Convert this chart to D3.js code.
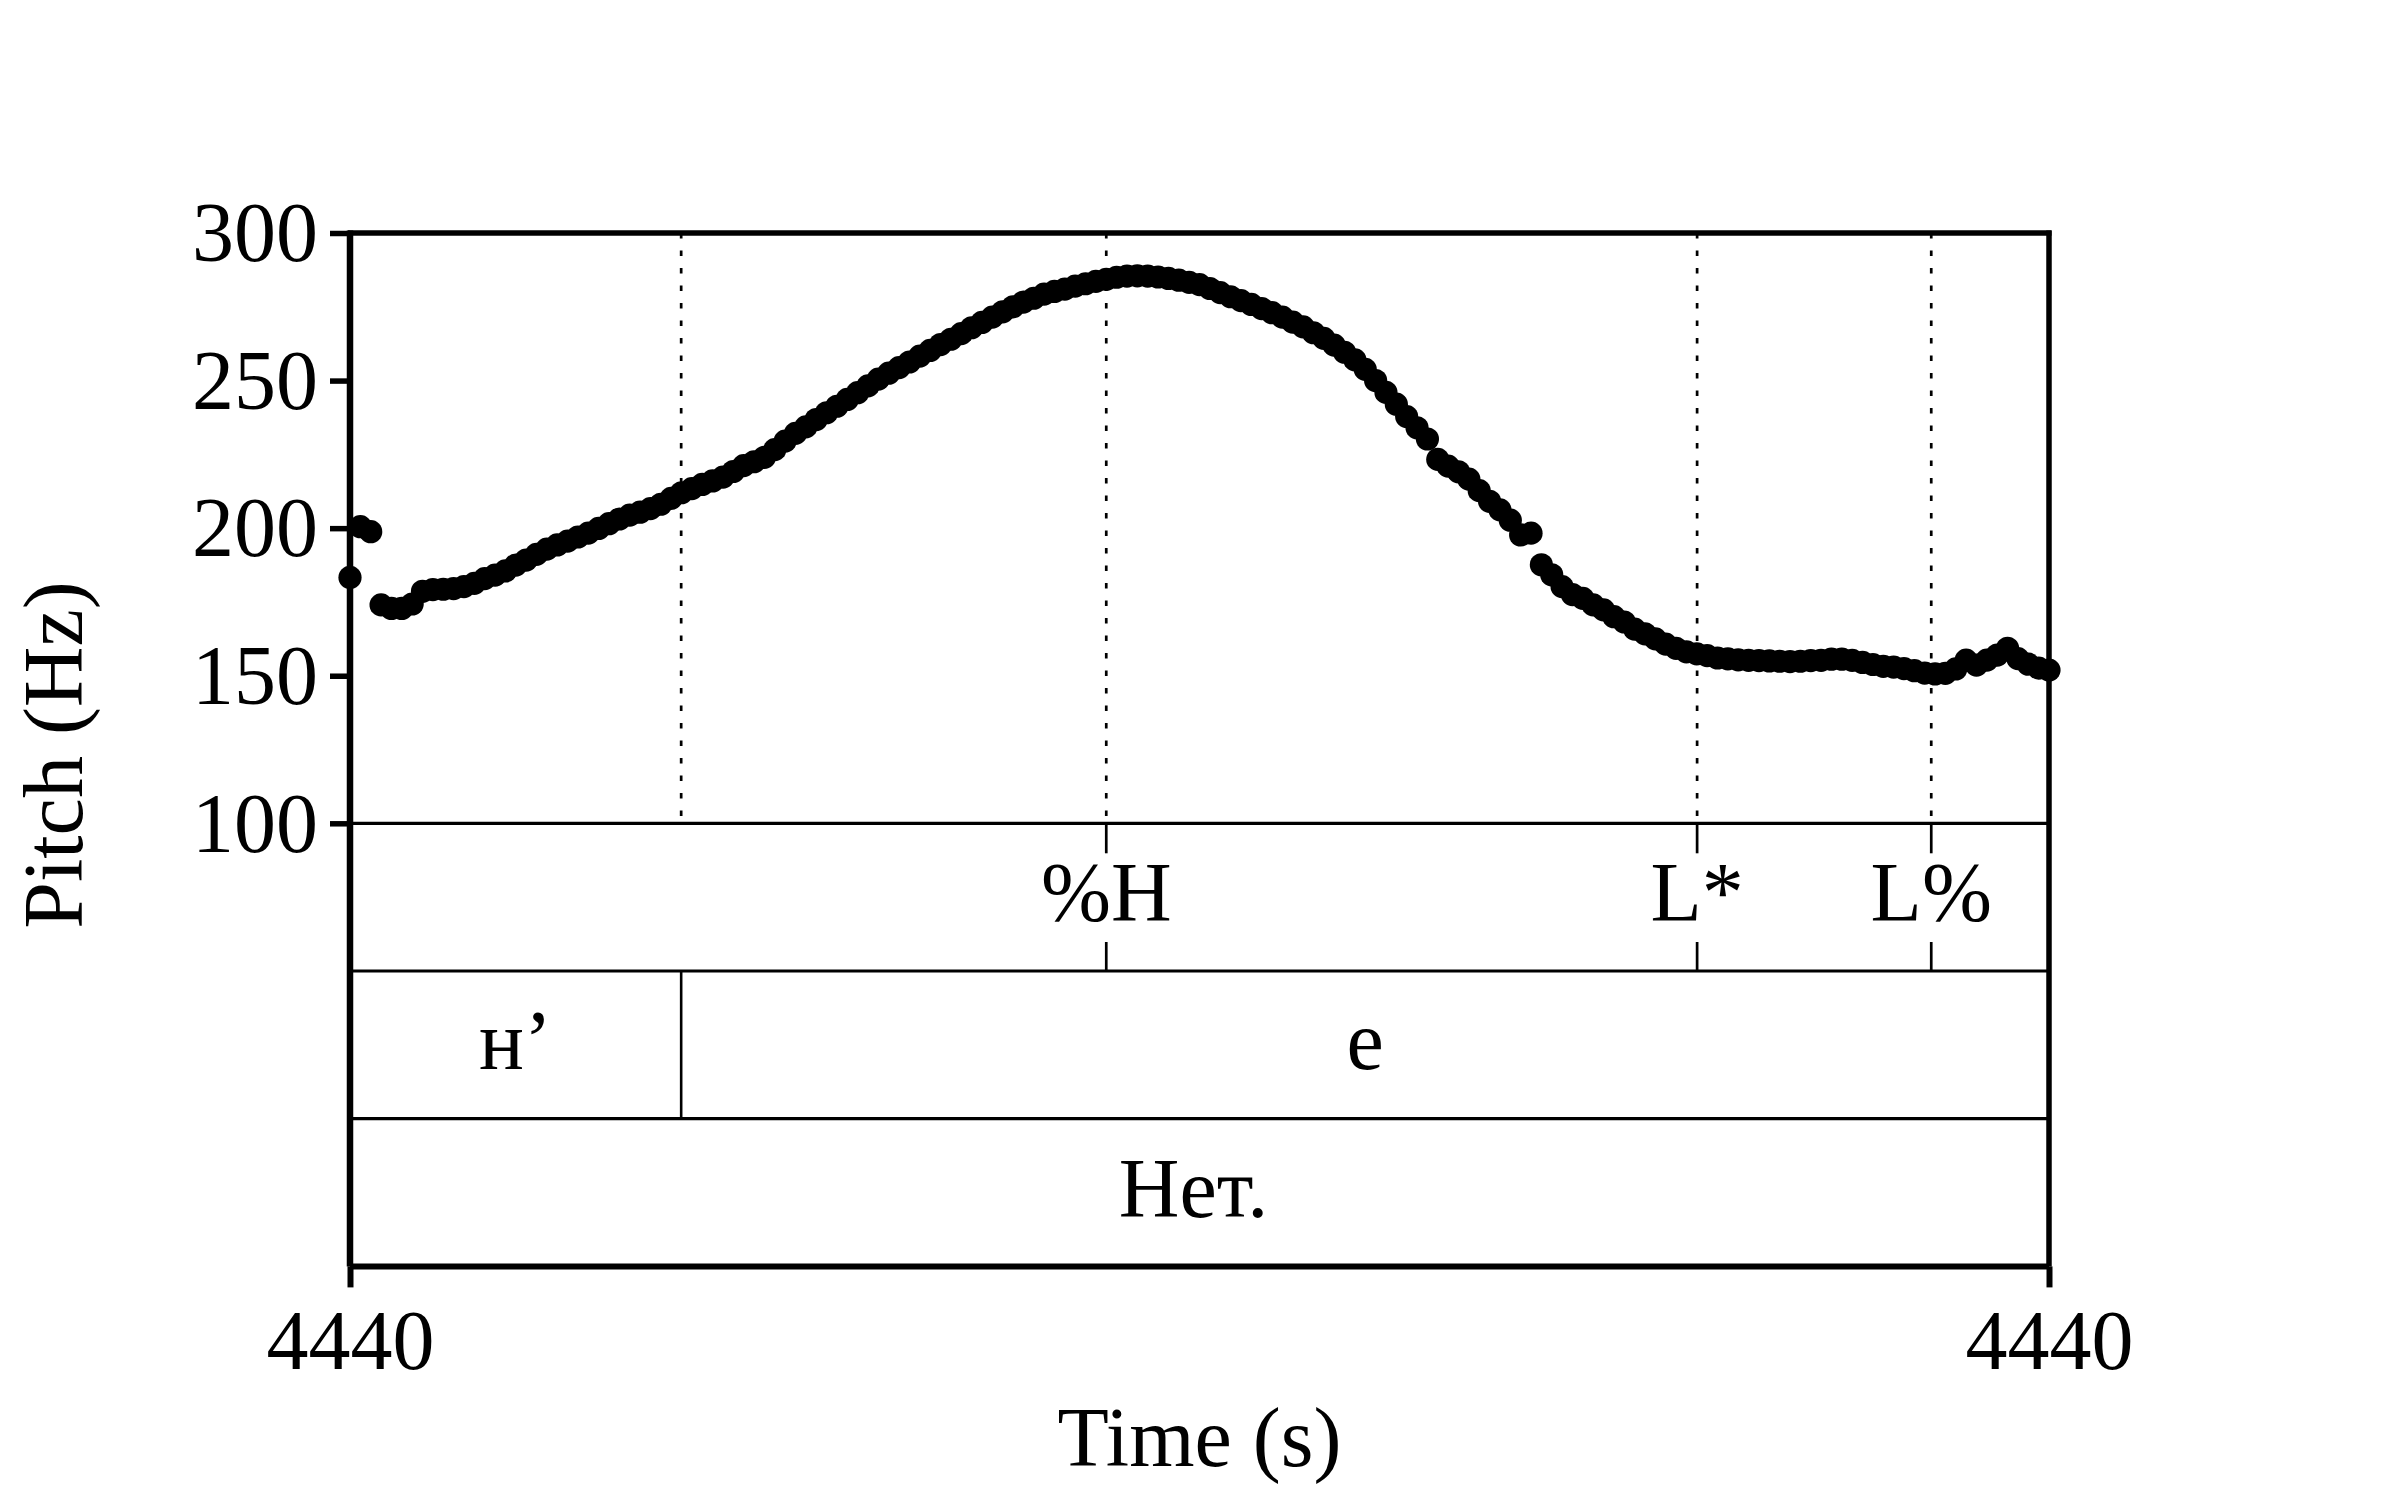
<!DOCTYPE html>
<html><head><meta charset="utf-8">
<script src="https://cdn.jsdelivr.net/npm/d3@7"></script>
<style>
body{margin:0;background:#fff;}
svg{display:block;}
text{font-family:"Liberation Serif","Times New Roman",serif;}
</style>
</head><body>
<svg id="chart" width="2400" height="1500"></svg>
<script>
// ---- data ----
const frameStart = 4440.005;   // time of first pitch frame (s)
const frameStep = 0.003;       // pitch frame step (s)
const pitchHz = [
183.3,200.5,198.8,174.0,172.8,172.8,174.3,178.6,179.2,179.3,
179.5,180.2,181.3,182.9,184.1,185.5,187.5,189.2,191.1,192.9,
194.3,195.6,197.0,198.3,199.9,201.5,203.1,204.4,205.4,206.6,
208.1,210.1,212.0,213.4,214.8,216.0,217.3,219.2,221.2,222.5,
224.0,226.6,229.5,232.1,234.3,236.8,239.1,241.3,243.6,245.9,
248.2,250.5,252.5,254.4,256.3,258.3,260.2,262.2,264.0,265.9,
267.9,269.7,271.5,273.3,275.0,276.6,277.9,279.3,280.2,281.0,
282.0,282.8,283.6,284.3,285.0,285.4,285.5,285.4,285.1,284.6,
284.0,283.3,282.5,281.2,279.8,278.4,277.1,275.8,274.4,273.0,
271.5,269.8,268.2,266.2,264.3,262.0,259.6,257.0,253.8,250.0,
246.0,242.0,237.8,234.0,230.2,223.3,221.0,219.1,216.6,212.7,
209.1,206.2,202.7,197.7,198.3,187.6,184.2,180.2,177.5,176.2,
174.0,172.3,170.0,168.2,165.8,164.2,162.5,160.7,159.3,158.1,
157.4,156.8,156.0,155.7,155.4,155.2,155.1,155.0,154.9,154.8,
154.9,155.1,155.2,155.6,155.6,155.2,154.5,153.8,153.2,152.9,
152.4,151.7,150.9,150.6,150.8,152.3,155.3,153.6,155.3,157.0,
159.3,155.8,153.9,152.6,151.9
];
const timeDomain = [4440.005, 4440.497];
const pitchDomain = [100, 300];
const pitchTicks = [100, 150, 200, 250, 300];
const timeTicks = [4440.005, 4440.497];

const toneLabels = ["%H", "L*", "L%"];
const toneTimes = [4440.2240, 4440.3951, 4440.4629];

const phoneLabels = ["н’", "е"];
const phoneBounds = [4440.005, 4440.1009, 4440.497];

const wordLabels = ["Нет."];
const wordBounds = [4440.005, 4440.497];

const xTitle = "Time (s)";
const yTitle = "Pitch (Hz)";

// ---- layout ----
const L = 350, R = 2049, T = 233, PB = 823.3;
const tierH = 147.7;
const FS = 84;

const svg = d3.select("#chart");
const x = d3.scaleLinear().domain(timeDomain).range([L, R]);
const y = d3.scaleLinear().domain(pitchDomain).range([PB, T]);
const tierTop = i => PB + i * tierH;
const B = tierTop(3);

// dotted guide lines (segment boundaries and tone points) in pitch area
const guideTimes = [phoneBounds[1]].concat(toneTimes);
svg.append("g").selectAll("line").data(guideTimes).join("line")
  .attr("x1", d => x(d)).attr("x2", d => x(d))
  .attr("y1", T).attr("y2", PB)
  .attr("stroke", "#000").attr("stroke-width", 2.7)
  .attr("stroke-dasharray", "5.5 12");

// pitch dots
const pts = pitchHz.map((v, i) => ({t: frameStart + i * frameStep, v}));
svg.append("g").selectAll("circle").data(pts).join("circle")
  .attr("cx", d => x(d.t)).attr("cy", d => y(d.v)).attr("r", 11.6)
  .attr("fill", "#000");

// tier inner horizontal lines
svg.append("g").selectAll("line").data([0, 1, 2]).join("line")
  .attr("x1", L).attr("x2", R)
  .attr("y1", d => tierTop(d)).attr("y2", d => tierTop(d))
  .attr("stroke", "#000").attr("stroke-width", 3.2);

// tone point marks (short ticks at top and bottom of tone tier)
const tm = svg.append("g");
toneTimes.forEach(t => {
  tm.append("line").attr("x1", x(t)).attr("x2", x(t))
    .attr("y1", tierTop(0)).attr("y2", tierTop(0) + 30)
    .attr("stroke", "#000").attr("stroke-width", 2.7);
  tm.append("line").attr("x1", x(t)).attr("x2", x(t))
    .attr("y1", tierTop(1) - 29).attr("y2", tierTop(1))
    .attr("stroke", "#000").attr("stroke-width", 2.7);
});

// phone boundaries (interior)
svg.append("g").selectAll("line").data(phoneBounds.slice(1, -1)).join("line")
  .attr("x1", d => x(d)).attr("x2", d => x(d))
  .attr("y1", tierTop(1)).attr("y2", tierTop(2))
  .attr("stroke", "#000").attr("stroke-width", 2.6);

// frame
const fr = svg.append("g").attr("stroke", "#000").attr("fill", "none");
fr.append("line").attr("x1", L - 2).attr("x2", R + 2.5).attr("y1", T).attr("y2", T).attr("stroke-width", 5.5);
fr.append("line").attr("x1", L).attr("x2", R).attr("y1", B).attr("y2", B).attr("stroke-width", 6);
fr.append("line").attr("x1", L).attr("x2", L).attr("y1", T - 2.5).attr("y2", B).attr("stroke-width", 6.5);
fr.append("line").attr("x1", R).attr("x2", R).attr("y1", T - 2.5).attr("y2", B).attr("stroke-width", 5.5);

// y axis
const yAxis = svg.append("g").attr("transform", `translate(${L},0)`)
  .call(d3.axisLeft(y).tickValues(pitchTicks).tickSize(20).tickPadding(12).tickFormat(d3.format("d")));
yAxis.select(".domain").remove();
yAxis.selectAll(".tick line").attr("stroke-width", 5.5);
yAxis.selectAll(".tick text").attr("font-size", FS).attr("font-family", "Liberation Serif").attr("dy", "0.33em");
yAxis.attr("font-size", null).attr("font-family", null);

// x axis
const xAxis = svg.append("g").attr("transform", `translate(0,${B})`)
  .call(d3.axisBottom(x).tickValues(timeTicks).tickSize(21).tickPadding(22).tickFormat(d3.format(".0f")));
xAxis.select(".domain").remove();
xAxis.selectAll(".tick line").attr("stroke-width", 6);
xAxis.selectAll(".tick text").attr("font-size", FS).attr("font-family", "Liberation Serif");
xAxis.attr("font-size", null).attr("font-family", null);

// tier labels
const lab = svg.append("g").attr("font-size", FS).attr("text-anchor", "middle").attr("fill", "#000");
toneLabels.forEach((s, i) => {
  lab.append("text").attr("x", x(toneTimes[i])).attr("y", tierTop(0) + tierH / 2 + 24).text(s);
});
phoneLabels.forEach((s, i) => {
  lab.append("text").attr("x", (x(phoneBounds[i]) + x(phoneBounds[i + 1])) / 2)
    .attr("y", tierTop(1) + tierH / 2 + 24).text(s);
});
wordLabels.forEach((s, i) => {
  lab.append("text").attr("x", (x(wordBounds[i]) + x(wordBounds[i + 1])) / 2 - 6)
    .attr("y", tierTop(2) + tierH / 2 + 24).text(s);
});

// axis titles
svg.append("text").attr("x", (L + R) / 2).attr("y", 1466).attr("text-anchor", "middle")
  .attr("font-size", FS).text(xTitle);
svg.append("text").attr("transform", "translate(82,755) rotate(-90)").attr("text-anchor", "middle")
  .attr("font-size", FS).text(yTitle);
</script>
</body></html>
